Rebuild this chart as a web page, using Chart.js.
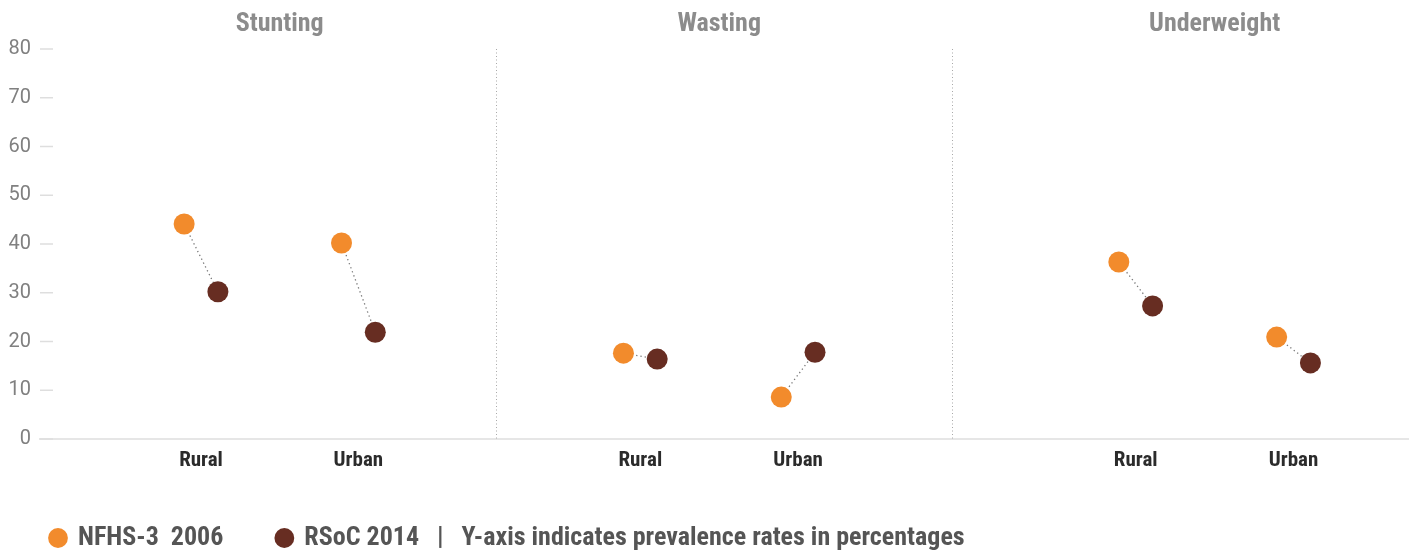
<!DOCTYPE html>
<html>
<head>
<meta charset="utf-8">
<script src="https://cdn.jsdelivr.net/npm/chart.js@4.4.1/dist/chart.umd.min.js"></script>
<style>
  html, body { margin: 0; padding: 0; background: #fff; }
  #wrap { width: 1419px; height: 557px; }
</style>
</head>
<body>
<div id="wrap"><canvas id="chart"></canvas></div>
<script>
// data
const indicators = ['Stunting', 'Wasting', 'Underweight'];
const areas = ['Rural', 'Urban'];
const nfhs2006 = [44.1, 40.2, 17.6, 8.6, 36.3, 20.9];   // Stunting R/U, Wasting R/U, Underweight R/U
const rsoc2014 = [30.2, 21.9, 16.4, 17.8, 27.3, 15.6];
const yTicks = [0, 10, 20, 30, 40, 50, 60, 70, 80];
const seriesNames = ['NFHS-3  2006', 'RSoC 2014   |   Y-axis indicates prevalence rates in percentages'];

// layout: each indicator panel is one unit on the x scale
const tickPos = [0.353, 0.698, 1.316, 1.662, 2.402, 2.748];
const dx = 0.037;

const condensed = "'Roboto Condensed', 'Liberation Sans Narrow', 'Arial Narrow', Roboto, sans-serif";
const orange = '#f28b2c';
const brown = '#672d22';

const ptsA = tickPos.map((p, i) => ({ x: p - dx, y: nfhs2006[i] }));
const ptsB = tickPos.map((p, i) => ({ x: p + dx, y: rsoc2014[i] }));
const links = [];
tickPos.forEach((p, i) => {
  links.push(ptsA[i], ptsB[i], { x: p + dx, y: null });
});

const decor = {
  id: 'decor',
  beforeDatasetsDraw(chart) {
    const { ctx, chartArea, scales: { x, y } } = chart;
    ctx.save();
    // dotted panel dividers
    ctx.strokeStyle = '#a8a8a8';
    ctx.lineWidth = 1;
    ctx.setLineDash([1, 2.5]);
    [1, 2].forEach(v => {
      const px = Math.round(x.getPixelForValue(v)) + 0.5;
      ctx.beginPath();
      ctx.moveTo(px, chartArea.top);
      ctx.lineTo(px, chartArea.bottom);
      ctx.stroke();
    });
    ctx.setLineDash([]);
    // short y tick marks inside the plot
    ctx.strokeStyle = '#dedede';
    ctx.lineWidth = 1.5;
    yTicks.forEach(v => {
      const py = y.getPixelForValue(v);
      ctx.beginPath();
      ctx.moveTo(chartArea.left, py);
      ctx.lineTo(chartArea.left + 13, py);
      ctx.stroke();
    });
    // panel titles
    ctx.fillStyle = '#8c8c8c';
    ctx.font = 'bold 26px ' + condensed;
    ctx.textAlign = 'center';
    ctx.textBaseline = 'middle';
    indicators.forEach((name, i) => {
      const cx = x.getPixelForValue((tickPos[i * 2] + tickPos[i * 2 + 1]) / 2);
      ctx.fillText(name, cx, 24);
    });
    ctx.restore();
  }
};

new Chart(document.getElementById('chart'), {
  type: 'scatter',
  data: {
    datasets: [
      {
        label: seriesNames[0],
        data: ptsA,
        backgroundColor: orange,
        borderColor: orange,
        borderWidth: 0,
        pointRadius: 10.5,
        order: 1
      },
      {
        label: seriesNames[1],
        data: ptsB,
        backgroundColor: brown,
        borderColor: brown,
        borderWidth: 0,
        pointRadius: 10.5,
        order: 2
      },
      {
        label: '',
        data: links,
        showLine: true,
        spanGaps: false,
        pointRadius: 0,
        borderColor: '#777',
        borderWidth: 1.3,
        borderDash: [1.3, 3],
        order: 3
      }
    ]
  },
  options: {
    responsive: true,
    maintainAspectRatio: false,
    animation: false,
    layout: { padding: { top: 49, right: 9, left: -3, bottom: -4 } },
    scales: {
      x: {
        type: 'linear',
        min: 0,
        max: 3,
        afterBuildTicks: s => { s.ticks = tickPos.map(v => ({ value: v })); },
        afterFit: s => { s.height = 32; },
        grid: { display: false, drawTicks: false },
        border: { color: '#e6e6e6', width: 2 },
        ticks: {
          autoSkip: false,
          maxRotation: 0,
          padding: 9,
          color: '#2b2b2b',
          font: { family: condensed, size: 21, weight: 'bold' },
          callback: (v, i) => areas[i % 2]
        }
      },
      y: {
        min: 0,
        max: 80,
        afterBuildTicks: s => { s.ticks = yTicks.map(v => ({ value: v })); },
        afterFit: s => { s.width = 43; },
        grid: { display: false, drawTicks: false },
        border: { display: false },
        ticks: {
          padding: 9,
          color: '#808080',
          font: { family: 'Roboto, sans-serif', size: 20 }
        }
      }
    },
    plugins: {
      tooltip: { enabled: false },
      legend: {
        position: 'bottom',
        align: 'start',
        labels: {
          filter: item => item.text !== '',
          usePointStyle: true,
          pointStyle: 'circle',
          boxWidth: 14,
          boxHeight: 14,
          padding: 54,
          color: '#555',
          font: { family: condensed, size: 26, weight: 'bold' }
        }
      }
    }
  },
  plugins: [decor]
});
</script>
</body>
</html>
